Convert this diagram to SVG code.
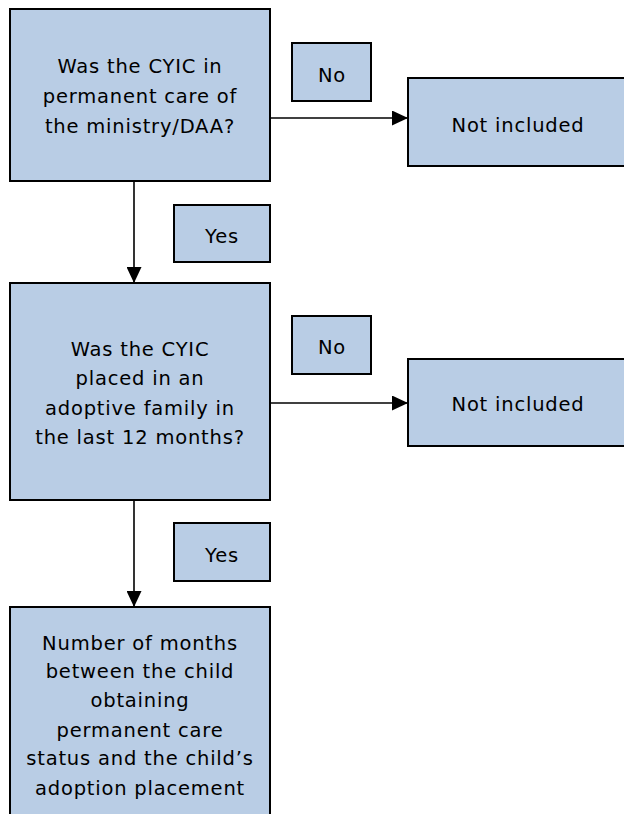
<svg xmlns="http://www.w3.org/2000/svg" width="624" height="814" viewBox="0 0 624 814">
<defs>
<style>
.box{fill:#B9CDE5;stroke:#000;stroke-width:2}
.t{font-family:"DejaVu Sans","Liberation Sans",sans-serif;font-size:19.5px;fill:#000;text-anchor:middle;letter-spacing:0.8px}
.c{stroke:#000;stroke-width:1.6;fill:none}
</style>
<marker id="ah2" viewBox="0 0 16 15" refX="16" refY="7.5" markerWidth="16" markerHeight="15" markerUnits="userSpaceOnUse" orient="auto">
<path d="M0,0 L16,7.5 L0,15 Z" fill="#000"/>
</marker>
</defs>
<rect width="624" height="814" fill="#fff"/>
<g id="connectors">
<line class="c" x1="134" y1="181" x2="134" y2="283" marker-end="url(#ah2)"/>
<line class="c" x1="270" y1="118" x2="408" y2="118" marker-end="url(#ah2)"/>
<line class="c" x1="134" y1="500" x2="134" y2="607" marker-end="url(#ah2)"/>
<line class="c" x1="270" y1="403" x2="408" y2="403" marker-end="url(#ah2)"/>
</g>
<g id="q1">
<rect class="box" x="10" y="9" width="260" height="172"/>
<text class="t" x="140" y="73">Was the CYIC in</text>
<text class="t" x="140" y="103">permanent care of</text>
<text class="t" x="140" y="133">the ministry/DAA?</text>
</g>
<g id="no1">
<rect class="box" x="292" y="43" width="79" height="58"/>
<text class="t" x="332" y="82">No</text>
</g>
<g id="excl1">
<rect class="box" x="408" y="78" width="222" height="88"/>
<text class="t" x="518" y="132">Not included</text>
</g>
<g id="yes1">
<rect class="box" x="174" y="205" width="96" height="57"/>
<text class="t" x="222" y="243">Yes</text>
</g>
<g id="q2">
<rect class="box" x="10" y="283" width="260" height="217"/>
<text class="t" x="140" y="356">Was the CYIC</text>
<text class="t" x="140" y="385">placed in an</text>
<text class="t" x="140" y="415">adoptive family in</text>
<text class="t" x="140" y="444">the last 12 months?</text>
</g>
<g id="no2">
<rect class="box" x="292" y="316" width="79" height="58"/>
<text class="t" x="332" y="354">No</text>
</g>
<g id="excl2">
<rect class="box" x="408" y="359" width="222" height="87"/>
<text class="t" x="518" y="411">Not included</text>
</g>
<g id="yes2">
<rect class="box" x="174" y="523" width="96" height="58"/>
<text class="t" x="222" y="562">Yes</text>
</g>
<g id="result">
<rect class="box" x="10" y="607" width="260" height="220"/>
<text class="t" x="140" y="650">Number of months</text>
<text class="t" x="140" y="678">between the child</text>
<text class="t" x="140" y="707">obtaining</text>
<text class="t" x="140" y="737">permanent care</text>
<text class="t" x="140" y="765">status and the child’s</text>
<text class="t" x="140" y="795">adoption placement</text>
</g>
</svg>
